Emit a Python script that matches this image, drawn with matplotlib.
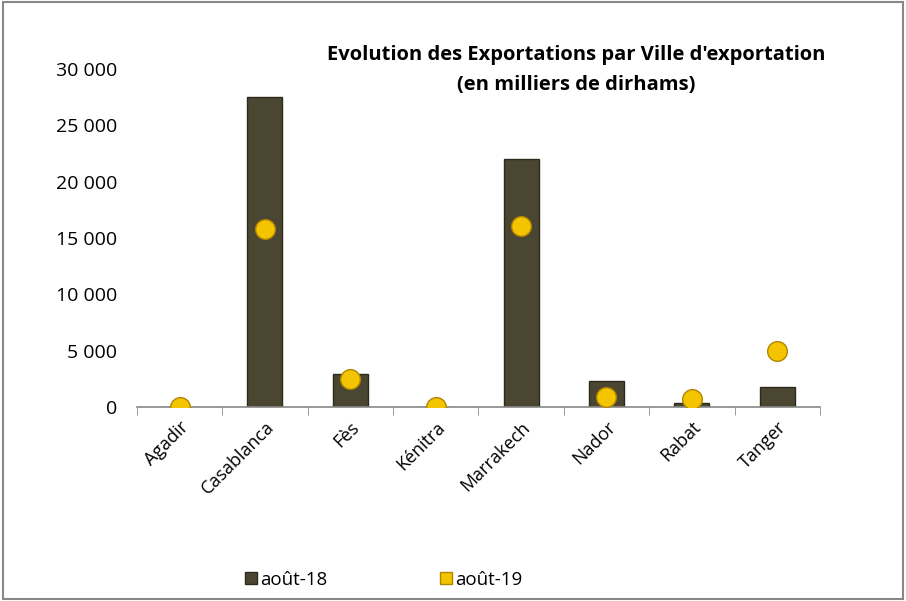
import matplotlib.pyplot as plt
import numpy as np
from matplotlib.ticker import FuncFormatter
from matplotlib.lines import Line2D

villes = ["Agadir", "Casablanca", "Fès", "Kénitra", "Marrakech", "Nador", "Rabat", "Tanger"]
aout_18 = [0, 27500, 2900, 0, 22000, 2300, 350, 1800]
aout_19 = [0, 15800, 2500, 0, 16100, 900, 700, 5000]

plt.rcParams['font.family'] = ['Open Sans', 'DejaVu Sans']

fig = plt.figure(figsize=(9.06, 6.01), dpi=100)
ax = fig.add_axes([0.151, 0.323, 0.754, 0.562])

x = np.arange(len(villes))
ax.bar(x, aout_18, width=0.41, color='#4b4631', edgecolor='#2e2b1c', linewidth=1, zorder=2)
ax.scatter(x, aout_19, s=200, color='#f5c400', edgecolors='#b08600', linewidths=1, zorder=3)

ax.set_xlim(-0.5, len(villes) - 0.5)
ax.set_ylim(0, 30000)
ax.set_yticks(np.arange(0, 30001, 5000))
ax.yaxis.set_major_formatter(FuncFormatter(lambda v, p: "{:,.0f}".format(v).replace(",", " ")))

ax.set_xticks(x)
ax.set_xticklabels(villes, rotation=45, ha='right', rotation_mode='anchor', fontsize=13)
ax.set_xticks(np.arange(-0.5, len(villes)), minor=True)
ax.tick_params(axis='x', which='major', length=0, pad=8)
ax.tick_params(axis='x', which='minor', length=6, color='#888888')
ax.tick_params(axis='y', length=0, labelsize=14, pad=14)

for s in ['top', 'right', 'left']:
    ax.spines[s].set_visible(False)
ax.spines['bottom'].set_color('#888888')
ax.spines['bottom'].set_linewidth(1.2)

fig.text(0.636, 0.884, "Evolution des Exportations par Ville d'exportation\n(en milliers de dirhams)",
         ha='center', va='center', fontsize=14.5, fontweight='bold', linespacing=1.65)

handles = [Line2D([], [], marker='s', linestyle='none', markersize=9, color='#4b4631', markeredgecolor='#2e2b1c'),
           Line2D([], [], marker='s', linestyle='none', markersize=9, color='#f5c400', markeredgecolor='#b08600')]
fig.legend(handles, ['août-18', 'août-19'], loc='center left', bbox_to_anchor=(0.252, 0.035), ncol=2,
           frameon=False, fontsize=13.5, handlelength=0.6, handletextpad=0.2, columnspacing=6)

# gray frame around the chart
fig.patches.append(plt.Rectangle((0.003, 0.003), 0.994, 0.994, transform=fig.transFigure,
                                 fill=False, edgecolor='#888888', linewidth=1.5))

fig.savefig('out.png', dpi=100)
